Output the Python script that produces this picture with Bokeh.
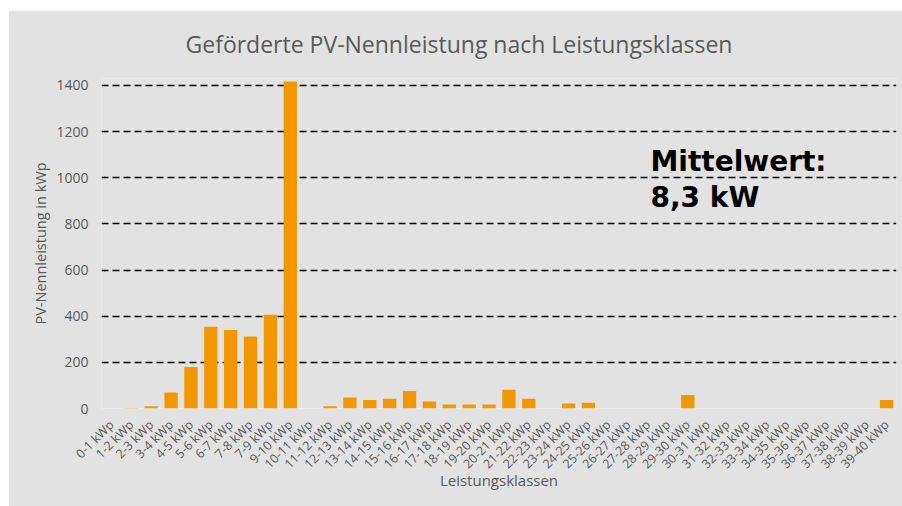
from bokeh.plotting import figure
from bokeh.models import Label, FactorRange, Range1d, SingleIntervalTicker
from bokeh.embed import file_html
from bokeh.resources import INLINE
import math

categories = ["0-1 kWp", "1-2 kWp", "2-3 kWp", "3-4 kWp", "4-5 kWp", "5-6 kWp", "6-7 kWp",
              "7-8 kWp", "7-9 kWp", "9-10 kWp", "10-11 kWp", "11-12 kWp", "12-13 kWp",
              "13-14 kWp", "14-15 kWp", "15-16 kWp", "16-17 kWp", "17-18 kWp", "18-19 kWp",
              "19-20 kWp", "20-21 kWp", "21-22 kWp", "22-23 kWp", "23-24 kWp", "24-25 kWp",
              "25-26 kWp", "26-27 kWp", "27-28 kWp", "28-29 kWp", "29-30 kWp", "30-31 kWp",
              "31-32 kWp", "32-33 kWp", "33-34 kWp", "34-35 kWp", "35-36 kWp", "36-37 kWp",
              "37-38 kWp", "38-39 kWp", "39-40 kWp"]
values = [0, 2, 10, 69, 180, 354, 340, 312, 406, 1417, 0, 10, 48, 37, 42, 76, 30, 17, 17,
          17, 81, 42, 0, 22, 25, 0, 0, 0, 0, 59, 0, 0, 0, 0, 0, 0, 0, 0, 0, 37]

title_text = "Geförderte PV-Nennleistung nach Leistungsklassen"
y_label = "PV-Nennleistung in kWp"
x_label = "Leistungsklassen"
note_line1 = "Mittelwert:"
note_line2 = "8,3 kW"

BG = "#E1E2E1"
TXT = "#595959"
FONT = "Open Sans"

p = figure(width=894, height=496, x_range=FactorRange(*categories, range_padding=0),
           y_range=Range1d(0, 1430), output_backend="svg", toolbar_location=None,
           min_border_left=93, min_border_right=6, min_border_top=67, min_border_bottom=98)
p.margin = (10, 0, 0, 8)
p.background_fill_color = BG
p.border_fill_color = BG
p.outline_line_color = None

p.title.text = title_text
p.title.align = "left"
p.title.offset = 84
p.title.vertical_align = "top"
p.title.text_font = FONT
p.title.text_font_size = "23px"
p.title.text_font_style = "normal"
p.title.text_color = TXT
p.title.standoff = 34

p.vbar(x=categories, top=values, width=0.67, fill_color="#F39700", line_color=None)

p.xgrid.grid_line_color = None
p.ygrid.grid_line_color = "black"
p.ygrid.grid_line_dash = "7 4"
p.ygrid.grid_line_width = 1.3
p.yaxis.ticker = SingleIntervalTicker(interval=200)

for ax in (p.xaxis[0], p.yaxis[0]):
    ax.axis_line_color = None
    ax.major_tick_line_color = None
    ax.minor_tick_line_color = None
    ax.major_tick_out = 0
    ax.major_tick_in = 0
    ax.minor_tick_out = 0
    ax.major_label_text_color = TXT
    ax.major_label_text_font = FONT
    ax.axis_label_text_color = TXT
    ax.axis_label_text_font = FONT
    ax.axis_label_text_font_style = "normal"

p.yaxis.major_label_text_font_size = "14px"
p.yaxis.major_label_standoff = 13
p.yaxis.axis_label = y_label
p.yaxis.axis_label_text_font_size = "14.5px"
p.yaxis.axis_label_standoff = 3

p.xaxis.major_label_orientation = math.pi / 4
p.xaxis.major_label_text_font_size = "12.5px"
p.xaxis.major_label_standoff = 14
p.xaxis.axis_label = x_label
p.xaxis.axis_label_text_font_size = "15px"
p.xaxis.axis_label_standoff = -11

p.add_layout(Label(x=549, y=247, x_units="screen", y_units="screen", text=note_line1,
                   text_align="left", text_baseline="alphabetic", text_font="DejaVu Sans",
                   text_font_size="28px", text_font_style="bold", text_color="black"))
p.add_layout(Label(x=549, y=211, x_units="screen", y_units="screen", text=note_line2,
                   text_align="left", text_baseline="alphabetic", text_font="DejaVu Sans",
                   text_font_size="28px", text_font_style="bold", text_color="black"))

open("out.html", "w").write(file_html(p, INLINE))
